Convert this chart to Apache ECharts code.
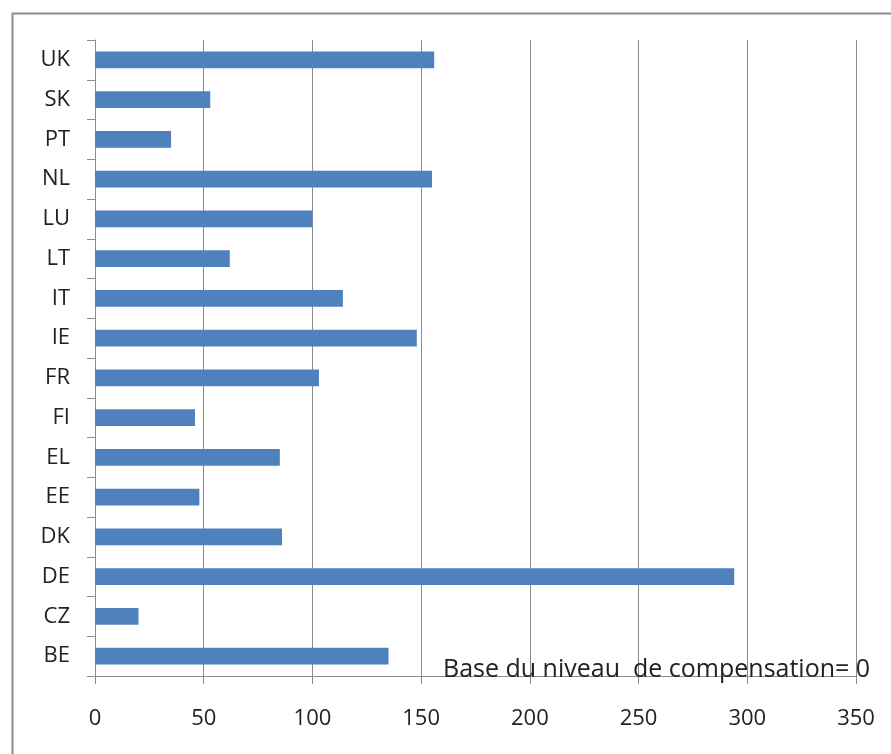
<!DOCTYPE html>
<html lang="fr" style="height: 100%">
<head>
    <meta charset="UTF-8">
    <title>Base du niveau de compensation</title>
    <script src="https://cdn.jsdelivr.net/npm/echarts@6/dist/echarts.min.js"></script>
</head>
<body style="height: 100%; margin: 0; background: #fff">
    <div id="chart" style="width: 891px; height: 754px"></div>
    <script>
        // pays, de bas en haut
        var countries = ['BE', 'CZ', 'DE', 'DK', 'EE', 'EL', 'FI', 'FR', 'IE', 'IT', 'LT', 'LU', 'NL', 'PT', 'SK', 'UK'];
        var values = [135, 20, 294, 86, 48, 85, 46, 103, 148, 114, 62, 100, 155, 35, 53, 156];
        var xTicks = [0, 50, 100, 150, 200, 250, 300, 350];
        var note = 'Base du niveau  de compensation= 0';

        var myChart = echarts.init(document.getElementById('chart'));
        var font = '"Open Sans", "Liberation Sans", sans-serif';

        var option = {
            animation: false,
            grid: {
                left: 95,
                right: 35,
                top: 40,
                bottom: 78
            },
            xAxis: {
                type: 'value',
                min: xTicks[0],
                max: xTicks[xTicks.length - 1],
                interval: 50,
                axisLine: { show: true, lineStyle: { color: '#8c8c8c', width: 1 } },
                axisTick: { show: true, length: 8, lineStyle: { color: '#8c8c8c' } },
                axisLabel: { color: '#222', fontSize: 22, fontFamily: font, margin: 32 },
                splitLine: { show: true, lineStyle: { color: '#8c8c8c', width: 1 } }
            },
            yAxis: {
                type: 'category',
                data: countries,
                axisLine: { show: true, lineStyle: { color: '#8c8c8c', width: 1 } },
                axisTick: { show: true, length: 8, lineStyle: { color: '#8c8c8c' } },
                axisLabel: { color: '#222', fontSize: 22, fontFamily: font, margin: 25 },
                splitLine: { show: false }
            },
            series: [{
                type: 'bar',
                data: values,
                barWidth: '42%',
                itemStyle: { color: '#4f81bd' }
            }],
            graphic: [
                {
                    type: 'rect',
                    left: 10,
                    top: 11,
                    shape: { width: 920, height: 800 },
                    style: { fill: 'none', stroke: '#8c8c8c', lineWidth: 2 },
                    silent: true
                },
                {
                    type: 'text',
                    left: 443,
                    top: 657,
                    z: 100,
                    style: {
                        text: note,
                        fill: '#222',
                        font: '25px ' + font
                    }
                }
            ]
        };
        myChart.setOption(option);
    </script>
</body>
</html>
